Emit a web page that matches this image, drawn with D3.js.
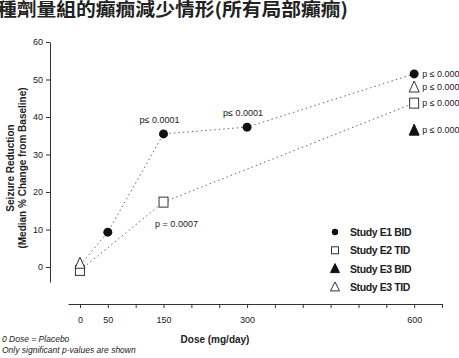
<!DOCTYPE html>
<html>
<head>
<meta charset="utf-8">
<script src="https://cdn.jsdelivr.net/npm/d3@7"></script>
<style>
  body { margin: 0; background: #fff; }
  svg { font-family: "Liberation Sans", Arial, sans-serif; }
</style>
</head>
<body>
<div id="chart"></div>
<script>
// values
var doses = [0, 50, 150, 300, 600]
var doseLabels = [0, 50, 150, 300, 600]
var yTicks = [0, 10, 20, 30, 40, 50, 60]

// E1 BID: placebo point only anchors the line (its marker is not visible)
var e1Doses = [0, 50, 150, 300, 600]
var e1Values = [0.5, 9.3, 35.5, 37.3, 51.5]
var e2Doses = [0, 150, 600]
var e2Values = [-0.9, 17.3, 43.7]
var e3bDoses = [600]
var e3bValues = [36.5]
var e3tDoses = [0, 600]
var e3tValues = [1.0, 48]

var pLabels = [
  {dose: 150, value: 35.5, text: "p\u2264 0.0001", pos: "above"},
  {dose: 300, value: 37.3, text: "p\u2264 0.0001", pos: "above"},
  {dose: 150, value: 17.3, text: "p = 0.0007", pos: "below"},
  {dose: 600, value: 51.5, text: "p \u2264 0.0001", pos: "right"},
  {dose: 600, value: 48, text: "p \u2264 0.0001", pos: "right"},
  {dose: 600, value: 43.7, text: "p \u2264 0.0001", pos: "right"},
  {dose: 600, value: 36.5, text: "p \u2264 0.0001", pos: "right"}
]

var legendNames = ["Study E1 BID", "Study E2 TID", "Study E3 BID", "Study E3 TID"]
var legendShapes = ["circle", "square", "tri", "otri"]

var width = 459,
    height = 358

var svg = d3.select("#chart")
  .append("svg")
    .attr("width", width)
    .attr("height", height)

var x = d3.scaleLinear().domain([-21.5, 650]).range([68, 442])
var y = d3.scaleLinear().domain([-4, 60]).range([282, 42])

// title (cut off at the left edge in the source)
svg.append("text")
  .attr("x", -3)
  .attr("y", 16)
  .attr("textLength", 351)
  .attr("lengthAdjust", "spacingAndGlyphs")
  .style("font-family", "'Noto Sans CJK TC', 'Noto Sans CJK SC', sans-serif")
  .style("font-weight", "bold")
  .style("font-size", "18px")
  .style("fill", "#222")
  .text("種劑量組的癲癇減少情形(所有局部癲癇)")

// axes
var xAxis = d3.axisBottom(x)
  .tickValues(d3.range(0, 651, 50))
  .tickSizeInner(4)
  .tickSizeOuter(0)
  .tickPadding(9)
  .tickFormat(function(d) { return doseLabels.indexOf(d) >= 0 ? d : "" })

var gx = svg.append("g")
  .attr("transform", "translate(0,304)")
  .call(xAxis)

var yAxis = d3.axisLeft(y)
  .tickValues(yTicks)
  .tickSizeInner(4)
  .tickSizeOuter(0)
  .tickPadding(3)

var gy = svg.append("g")
  .attr("transform", "translate(50,0)")
  .call(yAxis)

svg.selectAll(".domain, .tick line").attr("stroke", "#333").attr("stroke-width", 1)
svg.selectAll(".tick text")
  .style("font-size", "9px")
  .style("font-family", "'Liberation Sans Narrow', 'Liberation Sans', Arial")
  .attr("fill", "#222")

// axis titles
svg.append("text")
  .attr("x", 215)
  .attr("y", 343)
  .attr("text-anchor", "middle")
  .style("font-weight", "bold")
  .style("font-size", "10px")
  .style("font-family", "'Liberation Sans Narrow', 'Liberation Sans', Arial")
  .style("fill", "#222")
  .text("Dose (mg/day)")

var ylab = svg.append("g")
  .attr("transform", "translate(14,168) rotate(-90)")
ylab.append("text")
  .attr("text-anchor", "middle")
  .style("font-weight", "bold")
  .style("font-size", "10px")
  .style("fill", "#222")
  .text("Seizure Reduction")
ylab.append("text")
  .attr("y", 12)
  .attr("text-anchor", "middle")
  .style("font-weight", "bold")
  .style("font-size", "10px")
  .style("fill", "#222")
  .text("(Median % Change from Baseline)")

// footnotes
var notes = ["0 Dose = Placebo", "Only significant p-values are shown"]
svg.selectAll(".note")
  .data(notes)
  .enter()
  .append("text")
  .attr("x", 2)
  .attr("y", function(d, i) { return 342 + i * 11 })
  .style("font-style", "italic")
  .style("font-size", "8.5px")
  .style("font-family", "'Liberation Sans Narrow', 'Liberation Sans', Arial")
  .style("fill", "#222")
  .text(function(d) { return d })

// dotted lines
var line = d3.line()
  .x(function(d) { return x(d[0]) })
  .y(function(d) { return y(d[1]) })

var lines = [d3.zip(e1Doses, e1Values), d3.zip(e2Doses, e2Values)]
svg.selectAll(".series")
  .data(lines)
  .enter()
  .append("path")
  .attr("d", line)
  .attr("fill", "none")
  .attr("stroke", "#666")
  .attr("stroke-width", 1)
  .attr("stroke-dasharray", "1.5,3")

// markers
function drawMarker(g, shape, cx, cy) {
  if (shape == "circle") {
    g.append("circle").attr("cx", cx).attr("cy", cy).attr("r", 4.5).attr("fill", "#111")
  } else if (shape == "square") {
    g.append("rect").attr("x", cx - 4.5).attr("y", cy - 5).attr("width", 9).attr("height", 10)
      .attr("fill", "#fff").attr("stroke", "#333").attr("stroke-width", 1)
  } else {
    var s = 5
    g.append("path")
      .attr("d", "M" + cx + "," + (cy - s - 1) + "L" + (cx + s) + "," + (cy + s) + "L" + (cx - s) + "," + (cy + s) + "Z")
      .attr("fill", shape == "tri" ? "#111" : "#fff")
      .attr("stroke", shape == "tri" ? "#111" : "#333")
      .attr("stroke-width", 1)
  }
}

var marks = svg.append("g")
e2Doses.forEach(function(d, i) { drawMarker(marks, "square", x(d), y(e2Values[i])) })
e3tDoses.forEach(function(d, i) { drawMarker(marks, "otri", x(d), y(e3tValues[i])) })
e3bDoses.forEach(function(d, i) { drawMarker(marks, "tri", x(d), y(e3bValues[i])) })
e1Doses.forEach(function(d, i) {
  if (d > 0) drawMarker(marks, "circle", x(d), y(e1Values[i]))
})

// p-value annotations
svg.selectAll(".pval")
  .data(pLabels)
  .enter()
  .append("text")
  .attr("x", function(d) {
    if (d.pos == "right") return x(d.dose) + 8
    if (d.pos == "below") return x(d.dose) + 13
    return x(d.dose) - 4
  })
  .attr("y", function(d) {
    if (d.pos == "above") return y(d.value) - 11
    if (d.pos == "below") return y(d.value) + 25
    return y(d.value) + 3
  })
  .attr("text-anchor", function(d) { return d.pos == "right" ? "start" : "middle" })
  .style("font-size", "9px")
  .style("font-family", "'Liberation Sans Narrow', 'Liberation Sans', Arial")
  .style("fill", "#222")
  .text(function(d) { return d.text })

// legend
var legend = svg.selectAll(".legend")
  .data(legendNames)
  .enter()
  .append("g")
  .attr("transform", function(d, i) { return "translate(335," + (232 + i * 18.3) + ")" })

legend.each(function(d, i) {
  var g = d3.select(this)
  var shape = legendShapes[i]
  if (shape == "circle") {
    g.append("circle").attr("r", 3.2).attr("fill", "#111")
  } else if (shape == "square") {
    g.append("rect").attr("x", -3.5).attr("y", -3.5).attr("width", 7).attr("height", 7)
      .attr("fill", "#fff").attr("stroke", "#333")
  } else {
    g.append("path")
      .attr("d", "M0,-5L4.5,4L-4.5,4Z")
      .attr("fill", shape == "tri" ? "#111" : "#fff")
      .attr("stroke", shape == "tri" ? "#111" : "#333")
  }
  g.append("text")
    .attr("x", 15)
    .attr("y", 4)
    .style("font-weight", "bold")
    .style("font-size", "10.5px")
    .style("font-family", "'Liberation Sans Narrow', 'Liberation Sans', Arial")
    .style("letter-spacing", "-0.4px")
    .style("fill", "#222")
    .text(d)
})
</script>
</body>
</html>
